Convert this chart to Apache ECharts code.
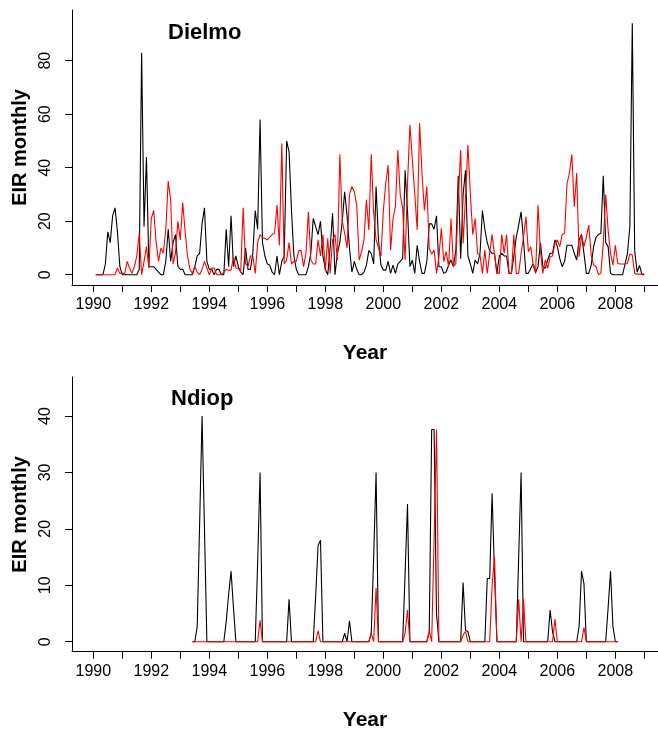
<!DOCTYPE html>
<html>
<head>
<meta charset="utf-8">
<script src="https://cdn.jsdelivr.net/npm/echarts@6/dist/echarts.min.js"></script>
<style>
html,body{margin:0;padding:0;background:#fff;}
#chart{width:658px;height:732px;}
</style>
</head>
<body>
<div id="chart"></div>
<script>
// ---- Data (monthly EIR) ----
// Dielmo: months Jan 1990 .. Dec 2008 (x = year + month/12)
var dielmoStartYear = 1990;
var dielmoBlack = [
  0,0,0,0,4,16,12,22,25,16,3,0,
  0,0,0,0,0,0,2,83,18,44,3,3,
  3,2,1,0,0,5,17,5,12,15,3,2,
  2,0,0,0,0,3,7,8,19,25,5,2,
  2,0,2,2,0,0,17,3,22,3,7,3,
  1,0,10,2,2,8,24,17,58,12,7,4,
  3.6,1,0,7,0,5,7,50,46,24,7,2,
  0,0,0,0,3,8,21,18,15,20,7,2,
  0,10,23,0,8,12,20,31,22,10,1,5,
  2,0,0,1,3.6,9,8,4,33,13,3.6,1.7,
  1.7,5,0.5,3.6,0.5,4,5,6,39,24,3,5.5,
  0.5,11,5,0.5,0.5,5,19,19,17,22,3,3,
  0.5,1,3.6,5.5,3,9,37,6,30,39,7,4,
  0.5,5.5,4,8,24,17,12,9,8,8,0.5,7,
  8,7,7,0.5,0.5,7,14,18.5,23.5,13,0.5,0.5,
  2.4,4,1,3,12,3,2.4,5.5,8,8,13,10.5,
  6,3,5,11,11,11,8,5.5,13,15,8,0.5,
  0.5,3.6,10.5,14,15,15.5,37,12,10.5,0.5,0,0,
  0,0,0,4,8,18,94,9,1,3.5,0,0
];
var dielmoRed = [
  0,0,0,0,0,0,0,0,0,2.5,0.5,0.5,
  0.5,5,2.5,0.5,3,7,15.5,0,5,10.5,2.5,21,
  24,12,5,10,8,17,35,28,4,8,20,13,
  27,16,7,2,0.5,3,1,0,2,5,2.5,0,
  2.5,2.5,0,0,0,1,2,1.7,1.7,6.7,2.4,2.4,
  1,25,4,3,7,7,0.5,12,15,14,13.5,13,
  14,15,15.5,26,11,49,4,5.5,12,4,5,5,
  9,9,3,8,23.5,5.5,4,4,13,7,15,1.5,
  13.6,0.5,13,15,5.5,45,20,15.5,10,30,33,31,
  26,5.5,8.6,13,28,16.7,45,23,13,10,7,24,
  34,41,9.2,21,25.4,46.6,29.8,24.8,5.5,34,56,43,
  30.4,16.7,56.6,37.9,24,33,9.8,7.7,9.2,0.5,6.7,17.3,
  4.9,8.6,3,21,3,4.2,28.5,46.6,11.7,29,48.5,30.4,
  15,21,8,7.3,0.5,9.2,0.5,8,15,7.3,0.5,0.5,
  15,8,15,0.5,0.5,15,0.5,0.5,8,14,21.7,8.6,
  10.5,3.6,0.5,26,9,0.5,5.5,2.4,6.7,7,11.7,13,
  10.5,15,15.5,34,38,45,25.4,38,6.7,15,10.5,14,
  18.5,7.3,3.6,3,0,0.5,11.7,30,16.7,8,3.6,11,
  4.2,4,4,4,4.2,7.7,7.3,0.5,0.2,0.2,0.2,0.2
];
// Ndiop: months Jun 1993 .. Dec 2007
var ndiopStartYear = 1993, ndiopStartMonth = 4;
var ndiopBlack = [
  0,0,2.7,21,40,20,0,
  0,0,0,0,0,0,0,3.6,8.4,12.5,6,0,
  0,0,0,0,0,0,0,0,14,30,0,0,
  0,0,0,0,0,0,0,0,0,7.5,0,0,
  0,0,0,0,0,0,0,0,8,17,18,0,
  0,0,0,0,0,0,0,0,1.5,0,3.7,0,
  0,0,0,0,0,0,0,1.5,15,30,0,0,
  0,0,0,0,0,0,0,0,0,12,24.4,0,
  0,0,0,0,0,0,0,1.8,37.6,37.6,5,0,
  0,0,0,0,0,0,0,0,0,10.5,2,1.8,
  0,0,0,0,0,0,0,11.2,11.2,26.3,12,0,
  0,0,0,0,0,0,0,0,15,30,0,0,
  0,0,0,0,0,0,0,0,0,5.6,1.8,0,
  0,0,0,0,0,0,0,0,0,2.7,12.5,10.3,
  0,0,0,0,0,0,0,0,0,6,12.5,2.7,
  0,0
];
var ndiopRed = [
  0,0,0,0,0,0,0,
  0,0,0,0,0,0,0,0,0,0,0,0,
  0,0,0,0,0,0,0,0,0,3.8,0,0,
  0,0,0,0,0,0,0,0,0,0,0,0,
  0,0,0,0,0,0,0,0,0,1.9,0,0,
  0,0,0,0,0,0,0,0,0,0,0,0,
  0,0,0,0,0,0,0,1.5,0,9.5,0,0,
  0,0,0,0,0,0,0,0,0,1.5,5.6,0,
  0,0,0,0,0,0,0,1.9,0,18,37.6,0,
  0,0,0,0,0,0,0,0,0,1.2,1.8,0,
  0,0,0,0,0,0,0,0,0,10,15,0,
  0,0,0,0,0,0,0,0,7.5,0,7.5,0,
  0,0,0,0,0,0,0,0,0,0,0,4,
  0,0,0,0,0,0,0,0,0,0,0,2.5,
  0,0,0,0,0,0,0,0,0,0,0,0,
  0,0
];
var yearTicks = [1990,1991,1992,1993,1994,1995,1996,1997,1998,1999,2000,2001,2002,2003,2004,2005,2006,2007,2008,2009];
var yearLabels = [1990,1992,1994,1996,1998,2000,2002,2004,2006,2008];
var dielmoYTicks = [0,20,40,60,80];
var ndiopYTicks = [0,10,20,30,40];

function toPairs(vals, startYear, startMonth) {
  return vals.map(function (v, k) { return [startYear + (startMonth + k + 1) / 12, v]; });
}

var tickFont = "'Liberation Sans',Arial,sans-serif";
var boldFont = "'Liberation Sans',Arial,sans-serif";

function xAxisFor(g) {
  return {
    type: 'value', gridIndex: g, min: 1989.266, max: 2009.47,
    axisLine: {show: true, onZero: false, lineStyle: {color: '#000', width: 1}},
    axisTick: {show: true, length: 7, customValues: yearTicks, lineStyle: {color: '#000', width: 1}},
    axisLabel: {customValues: yearLabels, margin: 12, fontSize: 16, fontFamily: tickFont, color: '#000',
      formatter: function (v) { return String(Math.round(v)); }},
    splitLine: {show: false},
    name: 'Year', nameLocation: 'middle', nameGap: 58,
    nameTextStyle: {fontWeight: 'bold', fontSize: 21, fontFamily: boldFont, color: '#000'}
  };
}
function yAxisFor(g, min, max, ticks) {
  return {
    type: 'value', gridIndex: g, min: min, max: max,
    axisLine: {show: true, onZero: false, lineStyle: {color: '#000', width: 1}},
    axisTick: {show: true, length: 7, customValues: ticks, lineStyle: {color: '#000', width: 1}},
    axisLabel: {customValues: ticks, rotate: 90, margin: 18, fontSize: 16, fontFamily: tickFont, color: '#000',
      formatter: function (v) { return String(Math.round(v)); }},
    splitLine: {show: false},
    name: 'EIR monthly', nameLocation: 'middle', nameGap: 40,
    nameTextStyle: {fontWeight: 'bold', fontSize: 20, fontFamily: boldFont, color: '#000'}
  };
}
function lineSeries(name, data, color, xi) {
  return {
    name: name, type: 'line', xAxisIndex: xi, yAxisIndex: xi, data: data,
    showSymbol: false, symbol: 'none', smooth: false,
    lineStyle: {color: color, width: 1.1}, itemStyle: {color: color},
    emphasis: {disabled: true}, silent: true
  };
}

var chart = echarts.init(document.getElementById('chart'), null, {renderer: 'canvas'});
chart.setOption({
  animation: false,
  backgroundColor: '#fff',
  title: [
    {text: 'Dielmo', left: 163, top: 17, textStyle: {fontSize: 22, fontWeight: 'bold', fontFamily: "'Liberation Sans',Arial,sans-serif", color: '#000'}},
    {text: 'Ndiop', left: 166, top: 383, textStyle: {fontSize: 22, fontWeight: 'bold', fontFamily: "'Liberation Sans',Arial,sans-serif", color: '#000'}}
  ],
  grid: [
    {left: 72, top: 10, width: 586, height: 275},
    {left: 72, top: 377, width: 586, height: 274.7}
  ],
  xAxis: [xAxisFor(0), xAxisFor(1)],
  yAxis: [yAxisFor(0, -3.85, 98.95, dielmoYTicks), yAxisFor(1, -1.77, 46.91, ndiopYTicks)],
  series: [
    lineSeries('Dielmo black', toPairs(dielmoBlack, dielmoStartYear, 0), '#000000', 0),
    lineSeries('Dielmo red', toPairs(dielmoRed, dielmoStartYear, 0), '#ff0000', 0),
    lineSeries('Ndiop black', toPairs(ndiopBlack, ndiopStartYear, ndiopStartMonth), '#000000', 1),
    lineSeries('Ndiop red', toPairs(ndiopRed, ndiopStartYear, ndiopStartMonth), '#ff0000', 1)
  ]
});
</script>
</body>
</html>
